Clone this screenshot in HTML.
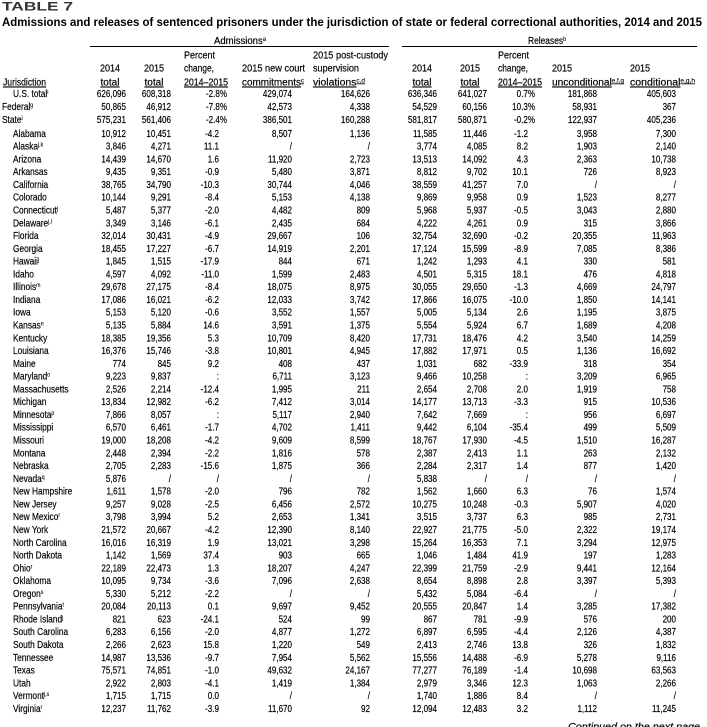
<!DOCTYPE html>
<html><head><meta charset="utf-8"><style>
html,body{margin:0;padding:0;background:#fff;}
svg{display:block;font-family:"Liberation Sans",sans-serif;}
text{font-size:9.7px;fill:#000;stroke:#000;stroke-width:0.18px;}
.n{transform:translate(13px,0) scale(.86,1);}
.n0{transform:translate(2px,0) scale(.86,1);}
.c1,.c2,.c3,.c3p,.c4,.c5,.c6,.c7,.c8,.c8p,.c9,.c10{text-anchor:end;}
.c1{transform:translate(126px,0) scale(.83,1);}
.c2{transform:translate(171px,0) scale(.83,1);}
.c3{transform:translate(219px,0) scale(.83,1);}
.c3p{transform:translate(227px,0) scale(.83,1);}
.c4{transform:translate(292px,0) scale(.83,1);}
.c5{transform:translate(370px,0) scale(.83,1);}
.c6{transform:translate(437px,0) scale(.83,1);}
.c7{transform:translate(487px,0) scale(.83,1);}
.c8{transform:translate(528px,0) scale(.83,1);}
.c8p{transform:translate(535px,0) scale(.83,1);}
.c9{transform:translate(597px,0) scale(.83,1);}
.c10{transform:translate(676px,0) scale(.83,1);}
.s{font-size:6px;stroke-width:0.1px;}
</style></head><body>
<svg width="707" height="727" viewBox="0 0 707 727" xmlns="http://www.w3.org/2000/svg">
<text x="2" y="10.5" font-weight="bold" textLength="71" lengthAdjust="spacingAndGlyphs" style="font-size:12px;fill:#333;stroke:none">TABLE 7</text>
<text x="2" y="26" font-weight="bold" textLength="700" lengthAdjust="spacingAndGlyphs" style="font-size:11.8px;fill:#000;stroke:none">Admissions and releases of sentenced prisoners under the jurisdiction of state or federal correctional authorities, 2014 and 2015</text>

<text x="240" y="44" text-anchor="middle" textLength="52" lengthAdjust="spacingAndGlyphs">Admissions<tspan class="s" dy="-3">a</tspan></text>
<line x1="90" y1="46.5" x2="389" y2="46.5" stroke="#000" stroke-width="0.9"/>
<text x="547" y="44" text-anchor="middle" textLength="38" lengthAdjust="spacingAndGlyphs">Releases<tspan class="s" dy="-3">b</tspan></text>
<line x1="402" y1="46.5" x2="697" y2="46.5" stroke="#000" stroke-width="0.9"/>

<g>
<text x="3" y="85.5" textLength="43" lengthAdjust="spacingAndGlyphs" text-decoration="underline">Jurisdiction</text>
<text x="110" y="71.5" text-anchor="middle" textLength="20" lengthAdjust="spacingAndGlyphs">2014</text>
<text x="110" y="85.5" text-anchor="middle" textLength="19" lengthAdjust="spacingAndGlyphs" text-decoration="underline">total</text>
<text x="154" y="71.5" text-anchor="middle" textLength="20" lengthAdjust="spacingAndGlyphs">2015</text>
<text x="154" y="85.5" text-anchor="middle" textLength="19" lengthAdjust="spacingAndGlyphs" text-decoration="underline">total</text>
<text x="184" y="58.5" textLength="31" lengthAdjust="spacingAndGlyphs">Percent</text>
<text x="184" y="71.5" textLength="30" lengthAdjust="spacingAndGlyphs">change,</text>
<text x="184" y="85.5" textLength="44" lengthAdjust="spacingAndGlyphs" text-decoration="underline">2014–2015</text>
<text x="242" y="71.5" textLength="63" lengthAdjust="spacingAndGlyphs">2015 new court</text>
<text x="242" y="85.5" textLength="62" lengthAdjust="spacingAndGlyphs" text-decoration="underline">commitments<tspan class="s" dy="-3">c</tspan></text>
<text x="313" y="58.5" textLength="75" lengthAdjust="spacingAndGlyphs">2015 post-custody</text>
<text x="313" y="71.5" textLength="46" lengthAdjust="spacingAndGlyphs">supervision</text>
<text x="313" y="85.5" textLength="52" lengthAdjust="spacingAndGlyphs" text-decoration="underline">violations<tspan class="s" dy="-3">c,d</tspan></text>

<text x="422" y="71.5" text-anchor="middle" textLength="20" lengthAdjust="spacingAndGlyphs">2014</text>
<text x="422" y="85.5" text-anchor="middle" textLength="19" lengthAdjust="spacingAndGlyphs" text-decoration="underline">total</text>
<text x="470" y="71.5" text-anchor="middle" textLength="20" lengthAdjust="spacingAndGlyphs">2015</text>
<text x="470" y="85.5" text-anchor="middle" textLength="19" lengthAdjust="spacingAndGlyphs" text-decoration="underline">total</text>
<text x="498" y="58.5" textLength="31" lengthAdjust="spacingAndGlyphs">Percent</text>
<text x="498" y="71.5" textLength="30" lengthAdjust="spacingAndGlyphs">change,</text>
<text x="498" y="85.5" textLength="44" lengthAdjust="spacingAndGlyphs" text-decoration="underline">2014–2015</text>
<text x="552" y="71.5" textLength="20" lengthAdjust="spacingAndGlyphs">2015</text>
<text x="552" y="85.5" textLength="72" lengthAdjust="spacingAndGlyphs" text-decoration="underline">unconditional<tspan class="s" dy="-3">e,f,g</tspan></text>
<text x="630" y="71.5" textLength="20" lengthAdjust="spacingAndGlyphs">2015</text>
<text x="630" y="85.5" textLength="65" lengthAdjust="spacingAndGlyphs" text-decoration="underline">conditional<tspan class="s" dy="-3">e,g,h</tspan></text>
</g>

<g transform="translate(0,97)"><text class="n">U.S. total<tspan class="s" dy="-3">i</tspan></text><text class="c1">626,096</text><text class="c2">608,318</text><text class="c3p">-2.8%</text><text class="c4">429,074</text><text class="c5">164,626</text><text class="c6">636,346</text><text class="c7">641,027</text><text class="c8p">0.7%</text><text class="c9">181,868</text><text class="c10">405,603</text></g>
<g transform="translate(0,110)"><text class="n0">Federal<tspan class="s" dy="-3">g</tspan></text><text class="c1">50,865</text><text class="c2">46,912</text><text class="c3p">-7.8%</text><text class="c4">42,573</text><text class="c5">4,338</text><text class="c6">54,529</text><text class="c7">60,156</text><text class="c8p">10.3%</text><text class="c9">58,931</text><text class="c10">367</text></g>
<g transform="translate(0,123)"><text class="n0">State<tspan class="s" dy="-3">i</tspan></text><text class="c1">575,231</text><text class="c2">561,406</text><text class="c3p">-2.4%</text><text class="c4">386,501</text><text class="c5">160,288</text><text class="c6">581,817</text><text class="c7">580,871</text><text class="c8p">-0.2%</text><text class="c9">122,937</text><text class="c10">405,236</text></g>

<g transform="translate(0,136.8)"><text class="n">Alabama</text><text class="c1">10,912</text><text class="c2">10,451</text><text class="c3">-4.2</text><text class="c4">8,507</text><text class="c5">1,136</text><text class="c6">11,585</text><text class="c7">11,446</text><text class="c8">-1.2</text><text class="c9">3,958</text><text class="c10">7,300</text></g>
<g transform="translate(0,149.58)"><text class="n">Alaska<tspan class="s" dy="-3">j,k</tspan></text><text class="c1">3,846</text><text class="c2">4,271</text><text class="c3">11.1</text><text class="c4">/</text><text class="c5">/</text><text class="c6">3,774</text><text class="c7">4,085</text><text class="c8">8.2</text><text class="c9">1,903</text><text class="c10">2,140</text></g>
<g transform="translate(0,162.36)"><text class="n">Arizona</text><text class="c1">14,439</text><text class="c2">14,670</text><text class="c3">1.6</text><text class="c4">11,920</text><text class="c5">2,723</text><text class="c6">13,513</text><text class="c7">14,092</text><text class="c8">4.3</text><text class="c9">2,363</text><text class="c10">10,738</text></g>
<g transform="translate(0,175.14)"><text class="n">Arkansas</text><text class="c1">9,435</text><text class="c2">9,351</text><text class="c3">-0.9</text><text class="c4">5,480</text><text class="c5">3,871</text><text class="c6">8,812</text><text class="c7">9,702</text><text class="c8">10.1</text><text class="c9">726</text><text class="c10">8,923</text></g>
<g transform="translate(0,187.92)"><text class="n">California</text><text class="c1">38,765</text><text class="c2">34,790</text><text class="c3">-10.3</text><text class="c4">30,744</text><text class="c5">4,046</text><text class="c6">38,559</text><text class="c7">41,257</text><text class="c8">7.0</text><text class="c9">/</text><text class="c10">/</text></g>
<g transform="translate(0,200.7)"><text class="n">Colorado</text><text class="c1">10,144</text><text class="c2">9,291</text><text class="c3">-8.4</text><text class="c4">5,153</text><text class="c5">4,138</text><text class="c6">9,869</text><text class="c7">9,958</text><text class="c8">0.9</text><text class="c9">1,523</text><text class="c10">8,277</text></g>
<g transform="translate(0,213.48)"><text class="n">Connecticut<tspan class="s" dy="-3">j</tspan></text><text class="c1">5,487</text><text class="c2">5,377</text><text class="c3">-2.0</text><text class="c4">4,482</text><text class="c5">809</text><text class="c6">5,968</text><text class="c7">5,937</text><text class="c8">-0.5</text><text class="c9">3,043</text><text class="c10">2,880</text></g>
<g transform="translate(0,226.26)"><text class="n">Delaware<tspan class="s" dy="-3">j,l</tspan></text><text class="c1">3,349</text><text class="c2">3,146</text><text class="c3">-6.1</text><text class="c4">2,435</text><text class="c5">684</text><text class="c6">4,222</text><text class="c7">4,261</text><text class="c8">0.9</text><text class="c9">315</text><text class="c10">3,866</text></g>
<g transform="translate(0,239.04)"><text class="n">Florida</text><text class="c1">32,014</text><text class="c2">30,431</text><text class="c3">-4.9</text><text class="c4">29,667</text><text class="c5">106</text><text class="c6">32,754</text><text class="c7">32,690</text><text class="c8">-0.2</text><text class="c9">20,355</text><text class="c10">11,963</text></g>
<g transform="translate(0,251.82)"><text class="n">Georgia</text><text class="c1">18,455</text><text class="c2">17,227</text><text class="c3">-6.7</text><text class="c4">14,919</text><text class="c5">2,201</text><text class="c6">17,124</text><text class="c7">15,599</text><text class="c8">-8.9</text><text class="c9">7,085</text><text class="c10">8,386</text></g>
<g transform="translate(0,264.6)"><text class="n">Hawaii<tspan class="s" dy="-3">j</tspan></text><text class="c1">1,845</text><text class="c2">1,515</text><text class="c3">-17.9</text><text class="c4">844</text><text class="c5">671</text><text class="c6">1,242</text><text class="c7">1,293</text><text class="c8">4.1</text><text class="c9">330</text><text class="c10">581</text></g>
<g transform="translate(0,277.38)"><text class="n">Idaho</text><text class="c1">4,597</text><text class="c2">4,092</text><text class="c3">-11.0</text><text class="c4">1,599</text><text class="c5">2,483</text><text class="c6">4,501</text><text class="c7">5,315</text><text class="c8">18.1</text><text class="c9">476</text><text class="c10">4,818</text></g>
<g transform="translate(0,290.16)"><text class="n">Illinois<tspan class="s" dy="-3">m</tspan></text><text class="c1">29,678</text><text class="c2">27,175</text><text class="c3">-8.4</text><text class="c4">18,075</text><text class="c5">8,975</text><text class="c6">30,055</text><text class="c7">29,650</text><text class="c8">-1.3</text><text class="c9">4,669</text><text class="c10">24,797</text></g>
<g transform="translate(0,302.94)"><text class="n">Indiana</text><text class="c1">17,086</text><text class="c2">16,021</text><text class="c3">-6.2</text><text class="c4">12,033</text><text class="c5">3,742</text><text class="c6">17,866</text><text class="c7">16,075</text><text class="c8">-10.0</text><text class="c9">1,850</text><text class="c10">14,141</text></g>
<g transform="translate(0,315.72)"><text class="n">Iowa</text><text class="c1">5,153</text><text class="c2">5,120</text><text class="c3">-0.6</text><text class="c4">3,552</text><text class="c5">1,557</text><text class="c6">5,005</text><text class="c7">5,134</text><text class="c8">2.6</text><text class="c9">1,195</text><text class="c10">3,875</text></g>
<g transform="translate(0,328.5)"><text class="n">Kansas<tspan class="s" dy="-3">n</tspan></text><text class="c1">5,135</text><text class="c2">5,884</text><text class="c3">14.6</text><text class="c4">3,591</text><text class="c5">1,375</text><text class="c6">5,554</text><text class="c7">5,924</text><text class="c8">6.7</text><text class="c9">1,689</text><text class="c10">4,208</text></g>
<g transform="translate(0,341.28)"><text class="n">Kentucky</text><text class="c1">18,385</text><text class="c2">19,356</text><text class="c3">5.3</text><text class="c4">10,709</text><text class="c5">8,420</text><text class="c6">17,731</text><text class="c7">18,476</text><text class="c8">4.2</text><text class="c9">3,540</text><text class="c10">14,259</text></g>
<g transform="translate(0,354.06)"><text class="n">Louisiana</text><text class="c1">16,376</text><text class="c2">15,746</text><text class="c3">-3.8</text><text class="c4">10,801</text><text class="c5">4,945</text><text class="c6">17,882</text><text class="c7">17,971</text><text class="c8">0.5</text><text class="c9">1,136</text><text class="c10">16,692</text></g>
<g transform="translate(0,366.84)"><text class="n">Maine</text><text class="c1">774</text><text class="c2">845</text><text class="c3">9.2</text><text class="c4">408</text><text class="c5">437</text><text class="c6">1,031</text><text class="c7">682</text><text class="c8">-33.9</text><text class="c9">318</text><text class="c10">354</text></g>
<g transform="translate(0,379.62)"><text class="n">Maryland<tspan class="s" dy="-3">o</tspan></text><text class="c1">9,223</text><text class="c2">9,837</text><text class="c3">:</text><text class="c4">6,711</text><text class="c5">3,123</text><text class="c6">9,466</text><text class="c7">10,258</text><text class="c8">:</text><text class="c9">3,209</text><text class="c10">6,965</text></g>
<g transform="translate(0,392.4)"><text class="n">Massachusetts</text><text class="c1">2,526</text><text class="c2">2,214</text><text class="c3">-12.4</text><text class="c4">1,995</text><text class="c5">211</text><text class="c6">2,654</text><text class="c7">2,708</text><text class="c8">2.0</text><text class="c9">1,919</text><text class="c10">758</text></g>
<g transform="translate(0,405.18)"><text class="n">Michigan</text><text class="c1">13,834</text><text class="c2">12,982</text><text class="c3">-6.2</text><text class="c4">7,412</text><text class="c5">3,014</text><text class="c6">14,177</text><text class="c7">13,713</text><text class="c8">-3.3</text><text class="c9">915</text><text class="c10">10,536</text></g>
<g transform="translate(0,417.96)"><text class="n">Minnesota<tspan class="s" dy="-3">p</tspan></text><text class="c1">7,866</text><text class="c2">8,057</text><text class="c3">:</text><text class="c4">5,117</text><text class="c5">2,940</text><text class="c6">7,642</text><text class="c7">7,669</text><text class="c8">:</text><text class="c9">956</text><text class="c10">6,697</text></g>
<g transform="translate(0,430.74)"><text class="n">Mississippi</text><text class="c1">6,570</text><text class="c2">6,461</text><text class="c3">-1.7</text><text class="c4">4,702</text><text class="c5">1,411</text><text class="c6">9,442</text><text class="c7">6,104</text><text class="c8">-35.4</text><text class="c9">499</text><text class="c10">5,509</text></g>
<g transform="translate(0,443.52)"><text class="n">Missouri</text><text class="c1">19,000</text><text class="c2">18,208</text><text class="c3">-4.2</text><text class="c4">9,609</text><text class="c5">8,599</text><text class="c6">18,767</text><text class="c7">17,930</text><text class="c8">-4.5</text><text class="c9">1,510</text><text class="c10">16,287</text></g>
<g transform="translate(0,456.3)"><text class="n">Montana</text><text class="c1">2,448</text><text class="c2">2,394</text><text class="c3">-2.2</text><text class="c4">1,816</text><text class="c5">578</text><text class="c6">2,387</text><text class="c7">2,413</text><text class="c8">1.1</text><text class="c9">263</text><text class="c10">2,132</text></g>
<g transform="translate(0,469.08)"><text class="n">Nebraska</text><text class="c1">2,705</text><text class="c2">2,283</text><text class="c3">-15.6</text><text class="c4">1,875</text><text class="c5">366</text><text class="c6">2,284</text><text class="c7">2,317</text><text class="c8">1.4</text><text class="c9">877</text><text class="c10">1,420</text></g>
<g transform="translate(0,481.86)"><text class="n">Nevada<tspan class="s" dy="-3">q</tspan></text><text class="c1">5,876</text><text class="c2">/</text><text class="c3">/</text><text class="c4">/</text><text class="c5">/</text><text class="c6">5,838</text><text class="c7">/</text><text class="c8">/</text><text class="c9">/</text><text class="c10">/</text></g>
<g transform="translate(0,494.64)"><text class="n">New Hampshire</text><text class="c1">1,611</text><text class="c2">1,578</text><text class="c3">-2.0</text><text class="c4">796</text><text class="c5">782</text><text class="c6">1,562</text><text class="c7">1,660</text><text class="c8">6.3</text><text class="c9">76</text><text class="c10">1,574</text></g>
<g transform="translate(0,507.42)"><text class="n">New Jersey</text><text class="c1">9,257</text><text class="c2">9,028</text><text class="c3">-2.5</text><text class="c4">6,456</text><text class="c5">2,572</text><text class="c6">10,275</text><text class="c7">10,248</text><text class="c8">-0.3</text><text class="c9">5,907</text><text class="c10">4,020</text></g>
<g transform="translate(0,520.2)"><text class="n">New Mexico<tspan class="s" dy="-3">r</tspan></text><text class="c1">3,798</text><text class="c2">3,994</text><text class="c3">5.2</text><text class="c4">2,653</text><text class="c5">1,341</text><text class="c6">3,515</text><text class="c7">3,737</text><text class="c8">6.3</text><text class="c9">985</text><text class="c10">2,731</text></g>
<g transform="translate(0,532.98)"><text class="n">New York</text><text class="c1">21,572</text><text class="c2">20,667</text><text class="c3">-4.2</text><text class="c4">12,390</text><text class="c5">8,140</text><text class="c6">22,927</text><text class="c7">21,775</text><text class="c8">-5.0</text><text class="c9">2,322</text><text class="c10">19,174</text></g>
<g transform="translate(0,545.76)"><text class="n">North Carolina</text><text class="c1">16,016</text><text class="c2">16,319</text><text class="c3">1.9</text><text class="c4">13,021</text><text class="c5">3,298</text><text class="c6">15,264</text><text class="c7">16,353</text><text class="c8">7.1</text><text class="c9">3,294</text><text class="c10">12,975</text></g>
<g transform="translate(0,558.54)"><text class="n">North Dakota</text><text class="c1">1,142</text><text class="c2">1,569</text><text class="c3">37.4</text><text class="c4">903</text><text class="c5">665</text><text class="c6">1,046</text><text class="c7">1,484</text><text class="c8">41.9</text><text class="c9">197</text><text class="c10">1,283</text></g>
<g transform="translate(0,571.32)"><text class="n">Ohio<tspan class="s" dy="-3">r</tspan></text><text class="c1">22,189</text><text class="c2">22,473</text><text class="c3">1.3</text><text class="c4">18,207</text><text class="c5">4,247</text><text class="c6">22,399</text><text class="c7">21,759</text><text class="c8">-2.9</text><text class="c9">9,441</text><text class="c10">12,164</text></g>
<g transform="translate(0,584.1)"><text class="n">Oklahoma</text><text class="c1">10,095</text><text class="c2">9,734</text><text class="c3">-3.6</text><text class="c4">7,096</text><text class="c5">2,638</text><text class="c6">8,654</text><text class="c7">8,898</text><text class="c8">2.8</text><text class="c9">3,397</text><text class="c10">5,393</text></g>
<g transform="translate(0,596.88)"><text class="n">Oregon<tspan class="s" dy="-3">s</tspan></text><text class="c1">5,330</text><text class="c2">5,212</text><text class="c3">-2.2</text><text class="c4">/</text><text class="c5">/</text><text class="c6">5,432</text><text class="c7">5,084</text><text class="c8">-6.4</text><text class="c9">/</text><text class="c10">/</text></g>
<g transform="translate(0,609.66)"><text class="n">Pennsylvania<tspan class="s" dy="-3">t</tspan></text><text class="c1">20,084</text><text class="c2">20,113</text><text class="c3">0.1</text><text class="c4">9,697</text><text class="c5">9,452</text><text class="c6">20,555</text><text class="c7">20,847</text><text class="c8">1.4</text><text class="c9">3,285</text><text class="c10">17,382</text></g>
<g transform="translate(0,622.44)"><text class="n">Rhode Island<tspan class="s" dy="-3">j</tspan></text><text class="c1">821</text><text class="c2">623</text><text class="c3">-24.1</text><text class="c4">524</text><text class="c5">99</text><text class="c6">867</text><text class="c7">781</text><text class="c8">-9.9</text><text class="c9">576</text><text class="c10">200</text></g>
<g transform="translate(0,635.22)"><text class="n">South Carolina</text><text class="c1">6,283</text><text class="c2">6,156</text><text class="c3">-2.0</text><text class="c4">4,877</text><text class="c5">1,272</text><text class="c6">6,897</text><text class="c7">6,595</text><text class="c8">-4.4</text><text class="c9">2,126</text><text class="c10">4,387</text></g>
<g transform="translate(0,648)"><text class="n">South Dakota</text><text class="c1">2,266</text><text class="c2">2,623</text><text class="c3">15.8</text><text class="c4">1,220</text><text class="c5">549</text><text class="c6">2,413</text><text class="c7">2,746</text><text class="c8">13.8</text><text class="c9">326</text><text class="c10">1,832</text></g>
<g transform="translate(0,660.78)"><text class="n">Tennessee</text><text class="c1">14,987</text><text class="c2">13,536</text><text class="c3">-9.7</text><text class="c4">7,954</text><text class="c5">5,562</text><text class="c6">15,556</text><text class="c7">14,488</text><text class="c8">-6.9</text><text class="c9">5,278</text><text class="c10">9,116</text></g>
<g transform="translate(0,673.56)"><text class="n">Texas</text><text class="c1">75,571</text><text class="c2">74,851</text><text class="c3">-1.0</text><text class="c4">49,632</text><text class="c5">24,167</text><text class="c6">77,277</text><text class="c7">76,189</text><text class="c8">-1.4</text><text class="c9">10,698</text><text class="c10">63,563</text></g>
<g transform="translate(0,686.34)"><text class="n">Utah</text><text class="c1">2,922</text><text class="c2">2,803</text><text class="c3">-4.1</text><text class="c4">1,419</text><text class="c5">1,384</text><text class="c6">2,979</text><text class="c7">3,346</text><text class="c8">12.3</text><text class="c9">1,063</text><text class="c10">2,266</text></g>
<g transform="translate(0,699.12)"><text class="n">Vermont<tspan class="s" dy="-3">j,s</tspan></text><text class="c1">1,715</text><text class="c2">1,715</text><text class="c3">0.0</text><text class="c4">/</text><text class="c5">/</text><text class="c6">1,740</text><text class="c7">1,886</text><text class="c8">8.4</text><text class="c9">/</text><text class="c10">/</text></g>
<g transform="translate(0,711.9)"><text class="n">Virginia<tspan class="s" dy="-3">r</tspan></text><text class="c1">12,237</text><text class="c2">11,762</text><text class="c3">-3.9</text><text class="c4">11,670</text><text class="c5">92</text><text class="c6">12,094</text><text class="c7">12,483</text><text class="c8">3.2</text><text class="c9">1,112</text><text class="c10">11,245</text></g>

<text x="568" y="730" font-style="italic" textLength="132" lengthAdjust="spacingAndGlyphs">Continued on the next page</text>
</svg>
</body></html>
